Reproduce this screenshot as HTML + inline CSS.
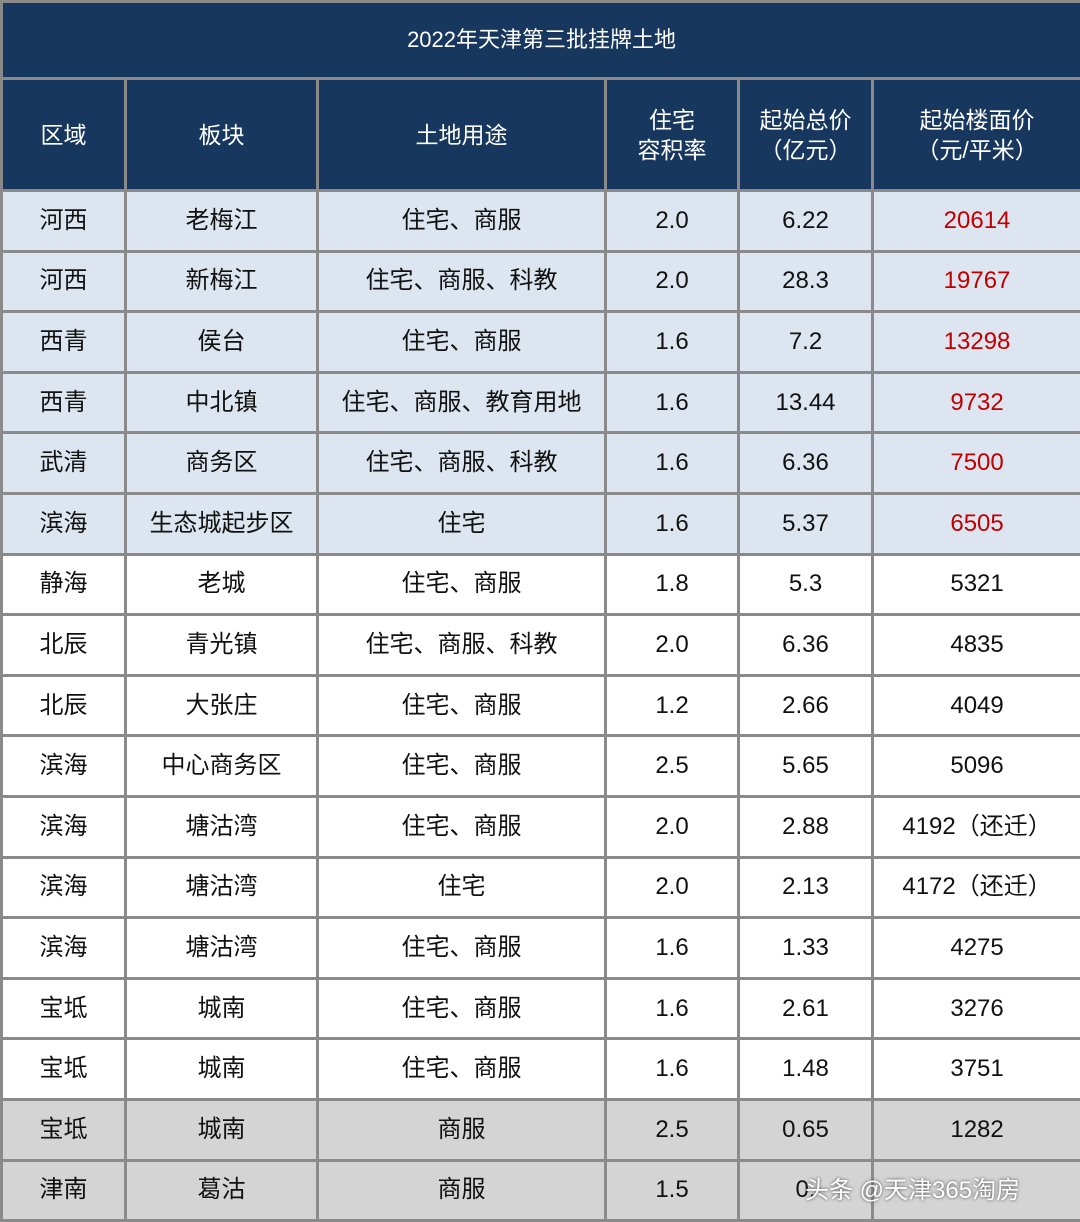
<!DOCTYPE html><html><head><meta charset="utf-8"><style>
body{margin:0;width:1080px;height:1221px;background:#fff;overflow:hidden}
table{border-collapse:collapse;table-layout:fixed;width:1080px;font-family:"Liberation Sans","Noto Sans CJK SC",sans-serif;font-size:24px;color:#111}
td{border:3px solid #8a8a8a;text-align:center;padding:0;line-height:30px}
tr.t td{height:74px;background:#17375e;color:#fff;font-size:22px}
tr.h td{height:109px;background:#17375e;color:#fff;font-size:23px}
tr.r td{height:57.6px}
tr.b td{background:#dde6f0}
tr.g td{background:#d4d4d4}
.red{color:#c00000}
</style></head><body><table>
<colgroup><col style="width:124px"><col style="width:192px"><col style="width:288px"><col style="width:133px"><col style="width:134px"><col style="width:209px"></colgroup>
<tr class="t"><td colspan="6">2022年天津第三批挂牌土地</td></tr>
<tr class="h"><td>区域</td><td>板块</td><td>土地用途</td><td>住宅<br>容积率</td><td>起始总价<br>（亿元）</td><td>起始楼面价<br>（元/平米）</td></tr>
<tr class="r b"><td>河西</td><td>老梅江</td><td>住宅、商服</td><td>2.0</td><td>6.22</td><td class="red">20614</td></tr>
<tr class="r b"><td>河西</td><td>新梅江</td><td>住宅、商服、科教</td><td>2.0</td><td>28.3</td><td class="red">19767</td></tr>
<tr class="r b"><td>西青</td><td>侯台</td><td>住宅、商服</td><td>1.6</td><td>7.2</td><td class="red">13298</td></tr>
<tr class="r b"><td>西青</td><td>中北镇</td><td>住宅、商服、教育用地</td><td>1.6</td><td>13.44</td><td class="red">9732</td></tr>
<tr class="r b"><td>武清</td><td>商务区</td><td>住宅、商服、科教</td><td>1.6</td><td>6.36</td><td class="red">7500</td></tr>
<tr class="r b"><td>滨海</td><td>生态城起步区</td><td>住宅</td><td>1.6</td><td>5.37</td><td class="red">6505</td></tr>
<tr class="r"><td>静海</td><td>老城</td><td>住宅、商服</td><td>1.8</td><td>5.3</td><td>5321</td></tr>
<tr class="r"><td>北辰</td><td>青光镇</td><td>住宅、商服、科教</td><td>2.0</td><td>6.36</td><td>4835</td></tr>
<tr class="r"><td>北辰</td><td>大张庄</td><td>住宅、商服</td><td>1.2</td><td>2.66</td><td>4049</td></tr>
<tr class="r"><td>滨海</td><td>中心商务区</td><td>住宅、商服</td><td>2.5</td><td>5.65</td><td>5096</td></tr>
<tr class="r"><td>滨海</td><td>塘沽湾</td><td>住宅、商服</td><td>2.0</td><td>2.88</td><td>4192（还迁）</td></tr>
<tr class="r"><td>滨海</td><td>塘沽湾</td><td>住宅</td><td>2.0</td><td>2.13</td><td>4172（还迁）</td></tr>
<tr class="r"><td>滨海</td><td>塘沽湾</td><td>住宅、商服</td><td>1.6</td><td>1.33</td><td>4275</td></tr>
<tr class="r"><td>宝坻</td><td>城南</td><td>住宅、商服</td><td>1.6</td><td>2.61</td><td>3276</td></tr>
<tr class="r"><td>宝坻</td><td>城南</td><td>住宅、商服</td><td>1.6</td><td>1.48</td><td>3751</td></tr>
<tr class="r g"><td>宝坻</td><td>城南</td><td>商服</td><td>2.5</td><td>0.65</td><td>1282</td></tr>
<tr class="r g"><td>津南</td><td>葛沽</td><td>商服</td><td>1.5</td><td>0.</td><td>&nbsp;</td></tr>
</table>
<div style="position:absolute;left:805px;top:1170px;font:24px 'Liberation Sans','Noto Sans CJK SC',sans-serif;color:#fff;text-shadow:0 0 3px #444">头条 @天津365淘房</div>
</body></html>
